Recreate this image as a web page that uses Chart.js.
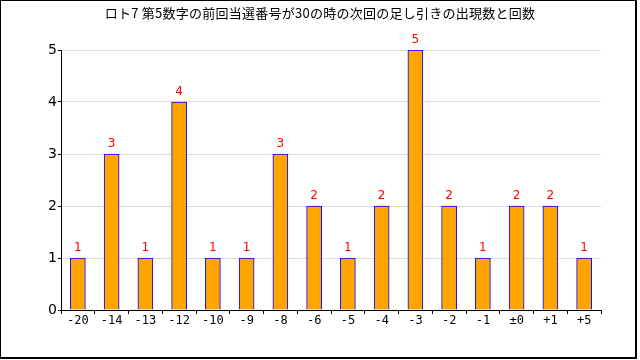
<!DOCTYPE html>
<html>
<head>
<meta charset="utf-8">
<script src="https://cdn.jsdelivr.net/npm/chart.js@4"></script>
<style>
  html, body { margin: 0; padding: 0; background: #fff; }
  #wrap { width: 640px; height: 360px; }
</style>
</head>
<body>
<div id="wrap"><canvas id="chart" width="640" height="360"></canvas></div>
<script>
// data
const titleText = "ロト7 第5数字の前回当選番号が30の時の次回の足し引きの出現数と回数";
const categories = ["-20", "-14", "-13", "-12", "-10", "-9", "-8", "-6", "-5", "-4", "-3", "-2", "-1", "±0", "+1", "+5"];
const counts = [1, 3, 1, 4, 1, 1, 3, 2, 1, 2, 5, 2, 1, 2, 2, 1];
const yTicks = [0, 1, 2, 3, 4, 5];

// title centred on the whole picture, plus the outer frame
const framePlugin = {
    id: "frame",
    afterDraw(chart) {
        const ctx = chart.ctx;
        ctx.save();
        ctx.fillStyle = "#000";
        ctx.font = "13px 'Noto Sans CJK JP'";
        ctx.letterSpacing = "0.25px";
        ctx.textAlign = "center";
        ctx.textBaseline = "middle";
        ctx.fillText(titleText, 320, 13);
        ctx.letterSpacing = "0px";
        ctx.strokeStyle = "#000";
        ctx.lineWidth = 2;
        ctx.strokeRect(0, 0, 636, 358);
        ctx.restore();
    }
};

// red value above each bar
const valueLabels = {
    id: "valueLabels",
    afterDatasetsDraw(chart) {
        const ctx = chart.ctx;
        const meta = chart.getDatasetMeta(0);
        ctx.save();
        ctx.fillStyle = "#ff0000";
        ctx.font = "12px 'DejaVu Sans'";
        ctx.textAlign = "center";
        ctx.textBaseline = "middle";
        meta.data.forEach((bar, i) => {
            ctx.fillText(String(counts[i]), bar.x, bar.y - 10);
        });
        ctx.restore();
    }
};

const ctx = document.getElementById("chart").getContext("2d");
new Chart(ctx, {
    type: "bar",
    data: {
        labels: categories,
        datasets: [{
            data: counts,
            backgroundColor: "#ffa500",
            borderColor: "#0000ff",
            borderWidth: 1,
            barThickness: 15
        }]
    },
    options: {
        responsive: false,
        animation: false,
        layout: { padding: { left: 0, right: 39, top: 50, bottom: 0 } },
        scales: {
            x: {
                grid: {
                    offset: true,
                    drawOnChartArea: false,
                    drawTicks: true,
                    tickLength: 4,
                    tickColor: "#000"
                },
                border: { display: true, color: "#000", width: 1 },
                ticks: {
                    color: "#000",
                    font: { family: "'DejaVu Sans Mono'", size: 12 },
                    padding: 0,
                    maxRotation: 0,
                    autoSkip: false
                },
                afterFit(scale) { scale.height = 50; }
            },
            y: {
                min: 0,
                max: 5,
                afterBuildTicks(scale) {
                    scale.ticks = yTicks.map(v => ({ value: v }));
                },
                grid: {
                    color: "#dcdcdc",
                    tickColor: "#000",
                    tickLength: 3,
                    lineWidth: 1
                },
                border: { display: true, color: "#000", width: 1 },
                ticks: {
                    color: "#000",
                    font: { family: "'DejaVu Sans'", size: 14 },
                    padding: 1
                },
                afterFit(scale) { scale.width = 61; }
            }
        },
        plugins: {
            legend: { display: false },
            tooltip: { enabled: false },
            title: { display: false }
        }
    },
    plugins: [valueLabels, framePlugin]
});
</script>
</body>
</html>
